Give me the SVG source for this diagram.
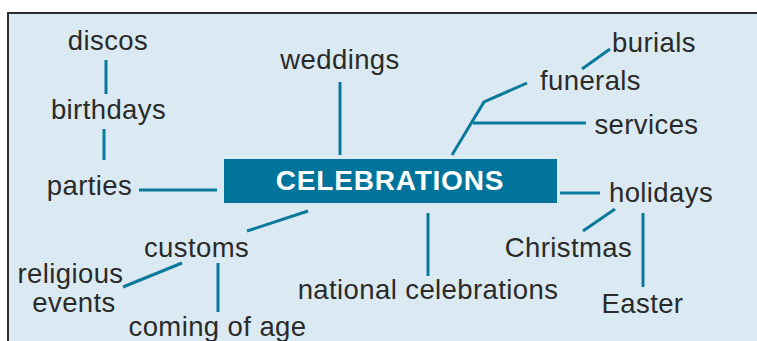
<svg xmlns="http://www.w3.org/2000/svg" width="757" height="341" viewBox="0 0 757 341">
<style>
.t{font-family:"Liberation Sans",Arial,sans-serif;font-size:27.5px;fill:#2a2a2a;text-anchor:middle;letter-spacing:0.4px}
.c{stroke:#0a7a9c;stroke-width:3;fill:none;stroke-linecap:butt;stroke-linejoin:miter}
.title{font-family:"Liberation Sans",Arial,sans-serif;font-size:28px;font-weight:bold;fill:#ffffff;text-anchor:middle;letter-spacing:0.8px}
</style>
<rect x="0" y="0" width="757" height="341" fill="#ffffff"/>
<rect x="8" y="13" width="760" height="340" fill="#dbeaf2" stroke="#2e2e2e" stroke-width="2"/>
<g id="connectors">
<line class="c" x1="106" y1="60" x2="106" y2="94"/>
<line class="c" x1="104" y1="129" x2="104" y2="160"/>
<line class="c" x1="139" y1="190" x2="217" y2="190"/>
<line class="c" x1="340" y1="82" x2="340" y2="155"/>
<polyline class="c" points="452,155 484,102 527,83"/>
<line class="c" x1="473" y1="123" x2="586" y2="123"/>
<line class="c" x1="582" y1="69" x2="610" y2="49"/>
<line class="c" x1="560" y1="193" x2="600" y2="193"/>
<line class="c" x1="615" y1="209" x2="583" y2="231"/>
<line class="c" x1="643" y1="213" x2="643" y2="287"/>
<line class="c" x1="428" y1="213" x2="428" y2="276"/>
<line class="c" x1="247" y1="231" x2="308" y2="211"/>
<line class="c" x1="182" y1="263" x2="123" y2="287"/>
<line class="c" x1="218" y1="263" x2="218" y2="312"/>
</g>
<g id="celebrations">
<rect x="224" y="159" width="333" height="44" fill="#00749a"/>
<text class="title" x="390" y="189.5">CELEBRATIONS</text>
</g>
<g id="discos"><text class="t" x="108" y="50">discos</text></g>
<g id="birthdays"><text class="t" x="108.5" y="119">birthdays</text></g>
<g id="parties"><text class="t" x="89.5" y="195">parties</text></g>
<g id="weddings"><text class="t" x="340" y="69">weddings</text></g>
<g id="burials"><text class="t" x="654" y="52">burials</text></g>
<g id="funerals"><text class="t" x="590.5" y="90">funerals</text></g>
<g id="services"><text class="t" x="646.5" y="134">services</text></g>
<g id="holidays"><text class="t" x="661" y="202">holidays</text></g>
<g id="christmas"><text class="t" x="568.5" y="257">Christmas</text></g>
<g id="easter"><text class="t" x="642.5" y="313">Easter</text></g>
<g id="national"><text class="t" x="428" y="299">national celebrations</text></g>
<g id="customs"><text class="t" x="196.5" y="257">customs</text></g>
<g id="religious"><text class="t" x="70.5" y="283">religious</text><text class="t" x="74" y="312">events</text></g>
<g id="coming"><text class="t" x="217.5" y="336">coming of age</text></g>
</svg>
